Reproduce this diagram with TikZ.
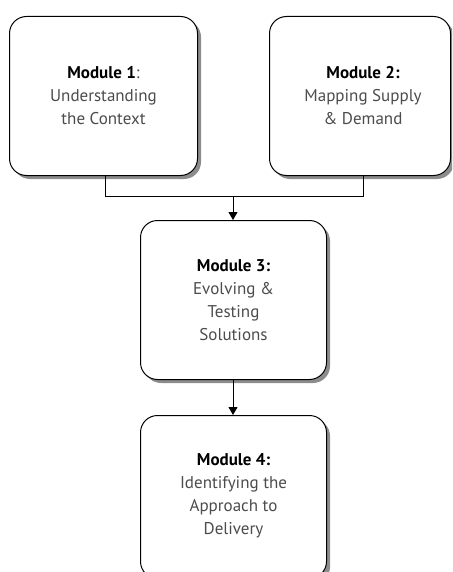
\documentclass[tikz,border=0pt]{standalone}
\usepackage{fontspec}
\setmainfont{PT Sans}
\usetikzlibrary{arrows.meta}
\definecolor{txtgray}{gray}{0.3}
\tikzset{
  modbox/.style={draw=black, line width=1pt, rounded corners=17pt, fill=white},
  modshadow/.style={fill=black!45, rounded corners=17pt},
  modtext/.style={align=center, font=\fontsize{17}{23}\selectfont, text=txtgray},
  conn/.style={draw=black, line width=1pt},
  arr/.style={conn, -{Triangle[length=8pt,width=9pt]}}
}
\begin{document}
\begin{tikzpicture}[x=1pt,y=-1pt]
\useasboundingbox (0,0) rectangle (452,572);
\clip (0,0) rectangle (452,572);
% shadows and boxes
\fill[modshadow] (13,20) rectangle (201,179);
\node[modbox, minimum width=188pt, minimum height=159pt, anchor=north west] (m1) at (9,16) {};
\fill[modshadow] (273,20) rectangle (454,179);
\node[modbox, minimum width=181pt, minimum height=159pt, anchor=north west] (m2) at (269,16) {};
\fill[modshadow] (144,224) rectangle (330,383);
\node[modbox, minimum width=186pt, minimum height=159pt, anchor=north west] (m3) at (140,220) {};
\fill[modshadow] (144,419) rectangle (330,584);
\node[modbox, minimum width=186pt, minimum height=163pt, anchor=north west] (m4) at (140,415) {};
% texts
\node[modtext] at (m1.center) {\textcolor{black}{\bfseries Module 1}:\\Understanding\\the Context};
\node[modtext] at ([xshift=3pt]m2.center) {\textcolor{black}{\bfseries Module 2:}\\Mapping Supply\\\& Demand};
\node[modtext] at (m3.center) {\textcolor{black}{\bfseries Module 3:}\\Evolving \&\\Testing\\Solutions};
\node[modtext] at ([yshift=1pt]m4.center) {\textcolor{black}{\bfseries Module 4:}\\Identifying the\\Approach to\\Delivery};
% connectors
\coordinate (j1) at (105,196);
\coordinate (j2) at (363,196);
\coordinate (jm) at (233,196);
\draw[conn] (m1.south -| j1) -- (j1) -- (j2) -- (m2.south -| j2);
\draw[arr] (jm) -- (m3.north -| jm);
\draw[arr] (m3.south -| jm) -- (m4.north -| jm);
\end{tikzpicture}
\end{document}
